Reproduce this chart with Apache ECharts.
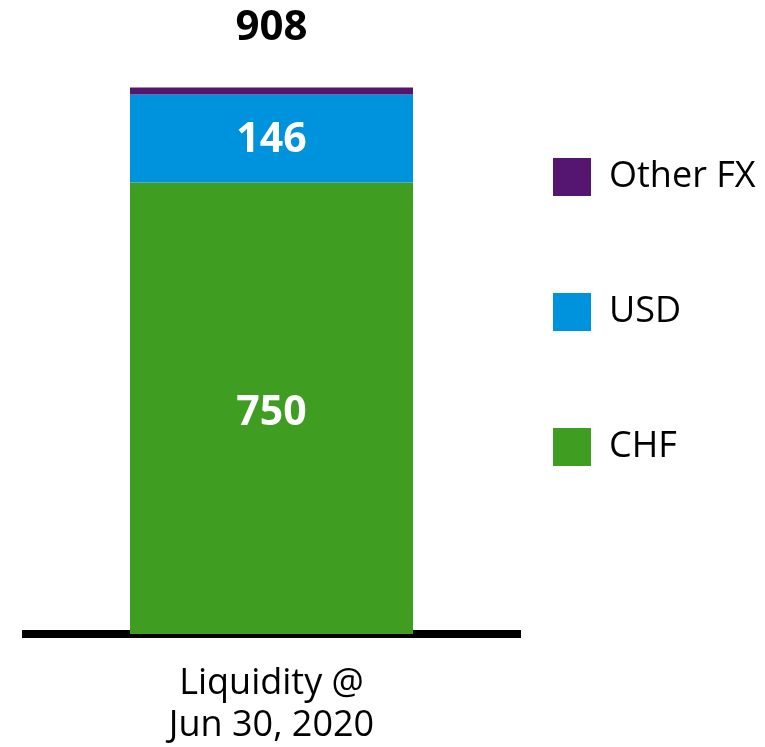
<!DOCTYPE html>
<html>
<head>
<meta charset="utf-8">
<script src="https://cdn.jsdelivr.net/npm/echarts@6/dist/echarts.min.js"></script>
<style>
  html, body { margin: 0; padding: 0; background: #fff; }
  #main { width: 765px; height: 747px; }
</style>
</head>
<body>
<div id="main"></div>
<script>
// data
var categories = ['Liquidity @\nJun 30, 2020'];
var chfValues = [750];
var usdValues = [146];
var otherValues = [12];

var totals = categories.map(function (c, i) {
    return chfValues[i] + usdValues[i] + otherValues[i];
});

var myChart = echarts.init(document.getElementById('main'));
var font = 'Open Sans';

option = {
    backgroundColor: '#fff',
    textStyle: { fontFamily: font },
    legend: {
        orient: 'vertical',
        left: 548,
        top: 153,
        itemWidth: 38,
        itemHeight: 38,
        itemGap: 97,
        icon: 'rect',
        textStyle: { fontSize: 36, color: '#000', fontFamily: font, padding: [0, 0, 0, 13] },
        data: ['Other FX', 'USD', 'CHF']
    },
    grid: {
        left: 22,
        right: 244,
        top: 32,
        bottom: 112
    },
    xAxis: {
        type: 'category',
        data: categories,
        offset: 4,
        axisLine: { lineStyle: { color: '#000', width: 8, cap: 'butt' } },
        axisTick: { show: false },
        axisLabel: {
            color: '#000',
            fontSize: 36,
            lineHeight: 42,
            margin: 25,
            fontFamily: font
        }
    },
    yAxis: {
        type: 'value',
        min: 0,
        max: 1000,
        show: false,
        splitLine: { show: false }
    },
    series: [
        {
            name: 'CHF',
            type: 'bar',
            stack: 'total',
            barWidth: 283,
            data: chfValues,
            itemStyle: { color: '#3f9e22' },
            label: {
                show: true,
                position: 'inside',
                offset: [0, 5],
                color: '#fff',
                fontSize: 41,
                fontWeight: 'bold',
                fontFamily: font
            }
        },
        {
            name: 'USD',
            type: 'bar',
            stack: 'total',
            barWidth: 283,
            data: usdValues,
            itemStyle: { color: '#0093dd' },
            label: {
                show: true,
                position: 'inside',
                offset: [0, 2],
                color: '#fff',
                fontSize: 41,
                fontWeight: 'bold',
                fontFamily: font
            }
        },
        {
            name: 'Other FX',
            type: 'bar',
            stack: 'total',
            barWidth: 283,
            data: otherValues,
            itemStyle: { color: '#55166f' },
            label: {
                show: true,
                position: 'top',
                distance: 38,
                color: '#000',
                fontSize: 42,
                fontWeight: 'bold',
                fontFamily: font,
                formatter: function (p) {
                    return totals[p.dataIndex];
                }
            }
        }
    ]
};
myChart.setOption(option);
</script>
</body>
</html>
